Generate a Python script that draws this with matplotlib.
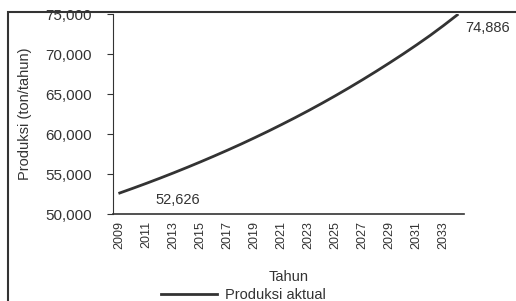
import matplotlib.pyplot as plt
from matplotlib.patches import Rectangle

# data
tahun = list(range(2009, 2035))
produksi = [52626, 53230, 53850, 54490, 55150, 55830, 56530, 57250, 57990, 58750,
            59540, 60350, 61190, 62050, 62940, 63860, 64810, 65790, 66800, 67840,
            68910, 70010, 71150, 72330, 73580, 74886]
tick_tahun = list(range(2009, 2035, 2))
y_ticks = [50000, 55000, 60000, 65000, 70000, 75000]

warna = '#333333'
plt.rcParams['font.family'] = ['Arial', 'Liberation Sans', 'DejaVu Sans']

fig = plt.figure(figsize=(5.16, 3.01), dpi=100)
ax = fig.add_axes([113/516, 1 - 214/301, (464 - 113)/516, (214 - 14)/301])

ax.plot(tahun, produksi, color=warna, lw=2, label='Produksi aktual')
ax.set_xlim(2008.5, 2034.5)
ax.set_ylim(50000, 75000)

ax.set_xticks(tick_tahun)
ax.set_xticklabels([str(t) for t in tick_tahun], rotation=90, fontsize=9, color=warna)
ax.set_yticks(y_ticks)
ax.set_yticklabels([f'{v:,}' for v in y_ticks], fontsize=11, color=warna)
ax.tick_params(axis='x', length=0, pad=5)
ax.tick_params(axis='y', length=4, direction='out', color=warna, pad=11)

for s in ['top', 'right']:
    ax.spines[s].set_visible(False)
ax.spines['left'].set_color(warna)
ax.spines['bottom'].set_color(warna)
ax.spines['bottom'].set_linewidth(1.2)

ax.set_ylabel('Produksi (ton/tahun)', fontsize=10.5, color=warna, labelpad=10)
ax.set_xlabel('Tahun', fontsize=10.5, color=warna, labelpad=15)

# data labels at first and last point
ax.annotate(f'{produksi[0]:,}', (tahun[0], produksi[0]), xytext=(2013.3, 51700),
            fontsize=10.5, color=warna, ha='center', va='center')
ax.annotate(f'{produksi[-1]:,}', (tahun[-1], produksi[-1]), xytext=(2034.6, 73250),
            fontsize=10.5, color=warna, ha='left', va='center', annotation_clip=False)

ax.legend(frameon=False, loc='center left', bbox_to_anchor=(148/516, 0.02),
          bbox_transform=fig.transFigure, fontsize=10.5, handlelength=3.8,
          handletextpad=0.6, labelcolor=warna)

# outer chart border
fig.patches.append(Rectangle((8/516, -0.1), 1.2, 1.1 - 12/301, transform=fig.transFigure,
                             fill=False, edgecolor=warna, lw=1.5))

fig.savefig('out.png', dpi=100, facecolor='white')
